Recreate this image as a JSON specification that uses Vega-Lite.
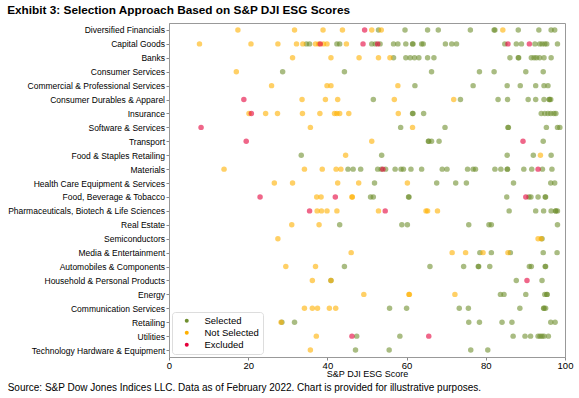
{
  "$schema": "https://vega.github.io/schema/vega-lite/v6.json",
  "background": "white",
  "padding": {"left": 7, "top": 4, "right": 8, "bottom": 2},
  "title": {"text": "Exhibit 3: Selection Approach Based on S&P DJI ESG Scores", "anchor": "start", "font": "Liberation Sans", "fontSize": 11.8, "fontWeight": "bold", "color": "#000000", "offset": 6},
  "config": {
    "font": "Liberation Sans",
    "view": {"stroke": "#999999", "strokeWidth": 1},
    "axis": {"grid": false, "labelColor": "#000000", "titleColor": "#000000", "tickColor": "#888888", "domainColor": "#999999"}
  },
  "resolve": {"legend": {"color": "independent"}},
  "data": {"values": [
    {"sector": "Diversified Financials", "score": 17.4, "group": "Not Selected"},
    {"sector": "Diversified Financials", "score": 31.7, "group": "Not Selected"},
    {"sector": "Diversified Financials", "score": 38.9, "group": "Not Selected"},
    {"sector": "Diversified Financials", "score": 43.8, "group": "Not Selected"},
    {"sector": "Diversified Financials", "score": 49.4, "group": "Excluded"},
    {"sector": "Diversified Financials", "score": 51.2, "group": "Not Selected"},
    {"sector": "Diversified Financials", "score": 52.9, "group": "Selected"},
    {"sector": "Diversified Financials", "score": 53.6, "group": "Not Selected"},
    {"sector": "Diversified Financials", "score": 59.6, "group": "Selected"},
    {"sector": "Diversified Financials", "score": 65.3, "group": "Selected"},
    {"sector": "Diversified Financials", "score": 68.0, "group": "Selected"},
    {"sector": "Diversified Financials", "score": 76.1, "group": "Selected"},
    {"sector": "Diversified Financials", "score": 82.1, "group": "Selected"},
    {"sector": "Diversified Financials", "score": 82.3, "group": "Selected"},
    {"sector": "Diversified Financials", "score": 84.3, "group": "Not Selected"},
    {"sector": "Diversified Financials", "score": 88.2, "group": "Selected"},
    {"sector": "Diversified Financials", "score": 93.4, "group": "Selected"},
    {"sector": "Diversified Financials", "score": 96.5, "group": "Selected"},
    {"sector": "Diversified Financials", "score": 97.4, "group": "Selected"},

    {"sector": "Capital Goods", "score": 7.7, "group": "Not Selected"},
    {"sector": "Capital Goods", "score": 20.7, "group": "Not Selected"},
    {"sector": "Capital Goods", "score": 27.5, "group": "Not Selected"},
    {"sector": "Capital Goods", "score": 32.2, "group": "Not Selected"},
    {"sector": "Capital Goods", "score": 33.8, "group": "Not Selected"},
    {"sector": "Capital Goods", "score": 37.0, "group": "Not Selected"},
    {"sector": "Capital Goods", "score": 37.8, "group": "Not Selected"},
    {"sector": "Capital Goods", "score": 39.0, "group": "Not Selected"},
    {"sector": "Capital Goods", "score": 39.9, "group": "Not Selected"},
    {"sector": "Capital Goods", "score": 44.8, "group": "Not Selected"},
    {"sector": "Capital Goods", "score": 34.7, "group": "Selected"},
    {"sector": "Capital Goods", "score": 35.5, "group": "Selected"},
    {"sector": "Capital Goods", "score": 42.4, "group": "Selected"},
    {"sector": "Capital Goods", "score": 43.1, "group": "Selected"},
    {"sector": "Capital Goods", "score": 38.2, "group": "Excluded"},
    {"sector": "Capital Goods", "score": 49.0, "group": "Excluded"},
    {"sector": "Capital Goods", "score": 52.7, "group": "Excluded"},
    {"sector": "Capital Goods", "score": 85.6, "group": "Excluded"},
    {"sector": "Capital Goods", "score": 91.0, "group": "Excluded"},
    {"sector": "Capital Goods", "score": 51.2, "group": "Selected"},
    {"sector": "Capital Goods", "score": 52.1, "group": "Selected"},
    {"sector": "Capital Goods", "score": 53.3, "group": "Selected"},
    {"sector": "Capital Goods", "score": 56.7, "group": "Selected"},
    {"sector": "Capital Goods", "score": 57.8, "group": "Selected"},
    {"sector": "Capital Goods", "score": 59.8, "group": "Selected"},
    {"sector": "Capital Goods", "score": 61.5, "group": "Selected"},
    {"sector": "Capital Goods", "score": 61.6, "group": "Selected"},
    {"sector": "Capital Goods", "score": 63.8, "group": "Selected"},
    {"sector": "Capital Goods", "score": 64.2, "group": "Selected"},
    {"sector": "Capital Goods", "score": 69.8, "group": "Selected"},
    {"sector": "Capital Goods", "score": 71.4, "group": "Selected"},
    {"sector": "Capital Goods", "score": 72.6, "group": "Selected"},
    {"sector": "Capital Goods", "score": 84.8, "group": "Selected"},
    {"sector": "Capital Goods", "score": 87.7, "group": "Selected"},
    {"sector": "Capital Goods", "score": 89.0, "group": "Selected"},
    {"sector": "Capital Goods", "score": 92.4, "group": "Selected"},
    {"sector": "Capital Goods", "score": 93.6, "group": "Selected"},
    {"sector": "Capital Goods", "score": 94.2, "group": "Selected"},
    {"sector": "Capital Goods", "score": 94.9, "group": "Selected"},
    {"sector": "Capital Goods", "score": 95.4, "group": "Selected"},
    {"sector": "Capital Goods", "score": 98.1, "group": "Selected"},

    {"sector": "Banks", "score": 31.2, "group": "Not Selected"},
    {"sector": "Banks", "score": 40.9, "group": "Not Selected"},
    {"sector": "Banks", "score": 48.0, "group": "Not Selected"},
    {"sector": "Banks", "score": 52.9, "group": "Not Selected"},
    {"sector": "Banks", "score": 55.8, "group": "Not Selected"},
    {"sector": "Banks", "score": 56.7, "group": "Selected"},
    {"sector": "Banks", "score": 59.8, "group": "Selected"},
    {"sector": "Banks", "score": 60.9, "group": "Selected"},
    {"sector": "Banks", "score": 62.0, "group": "Selected"},
    {"sector": "Banks", "score": 63.1, "group": "Selected"},
    {"sector": "Banks", "score": 65.3, "group": "Selected"},
    {"sector": "Banks", "score": 66.9, "group": "Selected"},
    {"sector": "Banks", "score": 86.1, "group": "Selected"},
    {"sector": "Banks", "score": 88.2, "group": "Selected"},
    {"sector": "Banks", "score": 88.3, "group": "Selected"},
    {"sector": "Banks", "score": 91.5, "group": "Selected"},
    {"sector": "Banks", "score": 92.2, "group": "Selected"},
    {"sector": "Banks", "score": 92.8, "group": "Selected"},
    {"sector": "Banks", "score": 93.6, "group": "Selected"},
    {"sector": "Banks", "score": 94.7, "group": "Selected"},
    {"sector": "Banks", "score": 96.5, "group": "Selected"},

    {"sector": "Consumer Services", "score": 17.0, "group": "Not Selected"},
    {"sector": "Consumer Services", "score": 28.7, "group": "Selected"},
    {"sector": "Consumer Services", "score": 44.3, "group": "Selected"},
    {"sector": "Consumer Services", "score": 66.3, "group": "Selected"},
    {"sector": "Consumer Services", "score": 78.4, "group": "Selected"},
    {"sector": "Consumer Services", "score": 82.1, "group": "Selected"},
    {"sector": "Consumer Services", "score": 90.1, "group": "Selected"},
    {"sector": "Consumer Services", "score": 94.5, "group": "Selected"},

    {"sector": "Commercial & Professional Services", "score": 25.9, "group": "Not Selected"},
    {"sector": "Commercial & Professional Services", "score": 39.9, "group": "Not Selected"},
    {"sector": "Commercial & Professional Services", "score": 40.9, "group": "Not Selected"},
    {"sector": "Commercial & Professional Services", "score": 57.8, "group": "Not Selected"},
    {"sector": "Commercial & Professional Services", "score": 62.1, "group": "Selected"},
    {"sector": "Commercial & Professional Services", "score": 76.8, "group": "Selected"},
    {"sector": "Commercial & Professional Services", "score": 85.4, "group": "Selected"},
    {"sector": "Commercial & Professional Services", "score": 88.7, "group": "Selected"},
    {"sector": "Commercial & Professional Services", "score": 92.6, "group": "Selected"},
    {"sector": "Commercial & Professional Services", "score": 94.7, "group": "Selected"},
    {"sector": "Commercial & Professional Services", "score": 95.7, "group": "Selected"},

    {"sector": "Consumer Durables & Apparel", "score": 18.9, "group": "Excluded"},
    {"sector": "Consumer Durables & Apparel", "score": 33.6, "group": "Not Selected"},
    {"sector": "Consumer Durables & Apparel", "score": 39.5, "group": "Not Selected"},
    {"sector": "Consumer Durables & Apparel", "score": 42.6, "group": "Not Selected"},
    {"sector": "Consumer Durables & Apparel", "score": 56.9, "group": "Not Selected"},
    {"sector": "Consumer Durables & Apparel", "score": 71.9, "group": "Not Selected"},
    {"sector": "Consumer Durables & Apparel", "score": 51.6, "group": "Selected"},
    {"sector": "Consumer Durables & Apparel", "score": 73.6, "group": "Selected"},
    {"sector": "Consumer Durables & Apparel", "score": 83.1, "group": "Selected"},
    {"sector": "Consumer Durables & Apparel", "score": 85.5, "group": "Selected"},
    {"sector": "Consumer Durables & Apparel", "score": 90.7, "group": "Selected"},
    {"sector": "Consumer Durables & Apparel", "score": 92.6, "group": "Selected"},
    {"sector": "Consumer Durables & Apparel", "score": 94.7, "group": "Selected"},
    {"sector": "Consumer Durables & Apparel", "score": 96.0, "group": "Selected"},
    {"sector": "Consumer Durables & Apparel", "score": 96.1, "group": "Selected"},
    {"sector": "Consumer Durables & Apparel", "score": 96.4, "group": "Selected"},

    {"sector": "Insurance", "score": 20.2, "group": "Not Selected"},
    {"sector": "Insurance", "score": 24.4, "group": "Not Selected"},
    {"sector": "Insurance", "score": 27.4, "group": "Not Selected"},
    {"sector": "Insurance", "score": 33.7, "group": "Not Selected"},
    {"sector": "Insurance", "score": 38.1, "group": "Not Selected"},
    {"sector": "Insurance", "score": 41.8, "group": "Not Selected"},
    {"sector": "Insurance", "score": 42.4, "group": "Not Selected"},
    {"sector": "Insurance", "score": 43.1, "group": "Not Selected"},
    {"sector": "Insurance", "score": 45.4, "group": "Not Selected"},
    {"sector": "Insurance", "score": 57.9, "group": "Not Selected"},
    {"sector": "Insurance", "score": 20.8, "group": "Excluded"},
    {"sector": "Insurance", "score": 61.5, "group": "Selected"},
    {"sector": "Insurance", "score": 61.6, "group": "Selected"},
    {"sector": "Insurance", "score": 64.3, "group": "Selected"},
    {"sector": "Insurance", "score": 94.0, "group": "Selected"},
    {"sector": "Insurance", "score": 94.9, "group": "Selected"},
    {"sector": "Insurance", "score": 95.7, "group": "Selected"},
    {"sector": "Insurance", "score": 96.4, "group": "Selected"},
    {"sector": "Insurance", "score": 97.2, "group": "Selected"},
    {"sector": "Insurance", "score": 97.7, "group": "Selected"},

    {"sector": "Software & Services", "score": 8.1, "group": "Excluded"},
    {"sector": "Software & Services", "score": 35.7, "group": "Not Selected"},
    {"sector": "Software & Services", "score": 61.5, "group": "Not Selected"},
    {"sector": "Software & Services", "score": 58.5, "group": "Selected"},
    {"sector": "Software & Services", "score": 69.7, "group": "Selected"},
    {"sector": "Software & Services", "score": 85.6, "group": "Selected"},
    {"sector": "Software & Services", "score": 85.7, "group": "Selected"},
    {"sector": "Software & Services", "score": 95.3, "group": "Selected"},
    {"sector": "Software & Services", "score": 98.1, "group": "Selected"},
    {"sector": "Software & Services", "score": 98.7, "group": "Selected"},

    {"sector": "Transport", "score": 19.5, "group": "Excluded"},
    {"sector": "Transport", "score": 89.4, "group": "Excluded"},
    {"sector": "Transport", "score": 51.2, "group": "Not Selected"},
    {"sector": "Transport", "score": 65.5, "group": "Selected"},
    {"sector": "Transport", "score": 65.6, "group": "Selected"},
    {"sector": "Transport", "score": 66.3, "group": "Selected"},
    {"sector": "Transport", "score": 68.2, "group": "Selected"},
    {"sector": "Transport", "score": 94.5, "group": "Selected"},

    {"sector": "Food & Staples Retailing", "score": 33.4, "group": "Selected"},
    {"sector": "Food & Staples Retailing", "score": 44.6, "group": "Not Selected"},
    {"sector": "Food & Staples Retailing", "score": 53.7, "group": "Selected"},
    {"sector": "Food & Staples Retailing", "score": 85.4, "group": "Selected"},
    {"sector": "Food & Staples Retailing", "score": 92.0, "group": "Selected"},
    {"sector": "Food & Staples Retailing", "score": 93.8, "group": "Not Selected"},
    {"sector": "Food & Staples Retailing", "score": 96.5, "group": "Selected"},

    {"sector": "Materials", "score": 13.9, "group": "Not Selected"},
    {"sector": "Materials", "score": 34.2, "group": "Not Selected"},
    {"sector": "Materials", "score": 38.7, "group": "Not Selected"},
    {"sector": "Materials", "score": 42.2, "group": "Not Selected"},
    {"sector": "Materials", "score": 43.4, "group": "Not Selected"},
    {"sector": "Materials", "score": 45.2, "group": "Selected"},
    {"sector": "Materials", "score": 46.5, "group": "Selected"},
    {"sector": "Materials", "score": 48.4, "group": "Selected"},
    {"sector": "Materials", "score": 52.7, "group": "Selected"},
    {"sector": "Materials", "score": 53.6, "group": "Selected"},
    {"sector": "Materials", "score": 54.0, "group": "Excluded"},
    {"sector": "Materials", "score": 54.7, "group": "Selected"},
    {"sector": "Materials", "score": 57.1, "group": "Selected"},
    {"sector": "Materials", "score": 58.6, "group": "Selected"},
    {"sector": "Materials", "score": 59.2, "group": "Selected"},
    {"sector": "Materials", "score": 61.1, "group": "Selected"},
    {"sector": "Materials", "score": 63.8, "group": "Selected"},
    {"sector": "Materials", "score": 69.0, "group": "Selected"},
    {"sector": "Materials", "score": 70.2, "group": "Selected"},
    {"sector": "Materials", "score": 75.4, "group": "Selected"},
    {"sector": "Materials", "score": 76.8, "group": "Selected"},
    {"sector": "Materials", "score": 77.4, "group": "Selected"},
    {"sector": "Materials", "score": 82.3, "group": "Selected"},
    {"sector": "Materials", "score": 83.8, "group": "Selected"},
    {"sector": "Materials", "score": 85.4, "group": "Selected"},
    {"sector": "Materials", "score": 85.5, "group": "Selected"},
    {"sector": "Materials", "score": 89.6, "group": "Selected"},
    {"sector": "Materials", "score": 91.6, "group": "Selected"},
    {"sector": "Materials", "score": 93.2, "group": "Excluded"},
    {"sector": "Materials", "score": 94.3, "group": "Selected"},
    {"sector": "Materials", "score": 96.7, "group": "Selected"},

    {"sector": "Health Care Equipment & Services", "score": 26.6, "group": "Not Selected"},
    {"sector": "Health Care Equipment & Services", "score": 31.2, "group": "Not Selected"},
    {"sector": "Health Care Equipment & Services", "score": 42.6, "group": "Not Selected"},
    {"sector": "Health Care Equipment & Services", "score": 47.9, "group": "Not Selected"},
    {"sector": "Health Care Equipment & Services", "score": 60.2, "group": "Not Selected"},
    {"sector": "Health Care Equipment & Services", "score": 51.9, "group": "Selected"},
    {"sector": "Health Care Equipment & Services", "score": 67.6, "group": "Selected"},
    {"sector": "Health Care Equipment & Services", "score": 72.4, "group": "Selected"},
    {"sector": "Health Care Equipment & Services", "score": 75.1, "group": "Selected"},
    {"sector": "Health Care Equipment & Services", "score": 87.0, "group": "Selected"},
    {"sector": "Health Care Equipment & Services", "score": 96.4, "group": "Selected"},
    {"sector": "Health Care Equipment & Services", "score": 97.4, "group": "Selected"},

    {"sector": "Food, Beverage & Tobacco", "score": 23.0, "group": "Excluded"},
    {"sector": "Food, Beverage & Tobacco", "score": 42.0, "group": "Excluded"},
    {"sector": "Food, Beverage & Tobacco", "score": 90.1, "group": "Excluded"},
    {"sector": "Food, Beverage & Tobacco", "score": 37.3, "group": "Not Selected"},
    {"sector": "Food, Beverage & Tobacco", "score": 38.4, "group": "Not Selected"},
    {"sector": "Food, Beverage & Tobacco", "score": 46.2, "group": "Not Selected"},
    {"sector": "Food, Beverage & Tobacco", "score": 46.3, "group": "Not Selected"},
    {"sector": "Food, Beverage & Tobacco", "score": 50.9, "group": "Selected"},
    {"sector": "Food, Beverage & Tobacco", "score": 51.6, "group": "Selected"},
    {"sector": "Food, Beverage & Tobacco", "score": 60.5, "group": "Selected"},
    {"sector": "Food, Beverage & Tobacco", "score": 60.6, "group": "Selected"},
    {"sector": "Food, Beverage & Tobacco", "score": 85.3, "group": "Selected"},
    {"sector": "Food, Beverage & Tobacco", "score": 90.9, "group": "Selected"},
    {"sector": "Food, Beverage & Tobacco", "score": 91.4, "group": "Selected"},
    {"sector": "Food, Beverage & Tobacco", "score": 93.2, "group": "Selected"},
    {"sector": "Food, Beverage & Tobacco", "score": 95.0, "group": "Selected"},
    {"sector": "Food, Beverage & Tobacco", "score": 95.1, "group": "Selected"},

    {"sector": "Pharmaceuticals, Biotech & Life Sciences", "score": 35.5, "group": "Excluded"},
    {"sector": "Pharmaceuticals, Biotech & Life Sciences", "score": 54.6, "group": "Excluded"},
    {"sector": "Pharmaceuticals, Biotech & Life Sciences", "score": 37.4, "group": "Not Selected"},
    {"sector": "Pharmaceuticals, Biotech & Life Sciences", "score": 38.5, "group": "Not Selected"},
    {"sector": "Pharmaceuticals, Biotech & Life Sciences", "score": 39.9, "group": "Not Selected"},
    {"sector": "Pharmaceuticals, Biotech & Life Sciences", "score": 42.4, "group": "Not Selected"},
    {"sector": "Pharmaceuticals, Biotech & Life Sciences", "score": 52.9, "group": "Not Selected"},
    {"sector": "Pharmaceuticals, Biotech & Life Sciences", "score": 64.9, "group": "Not Selected"},
    {"sector": "Pharmaceuticals, Biotech & Life Sciences", "score": 65.3, "group": "Not Selected"},
    {"sector": "Pharmaceuticals, Biotech & Life Sciences", "score": 67.8, "group": "Not Selected"},
    {"sector": "Pharmaceuticals, Biotech & Life Sciences", "score": 85.9, "group": "Selected"},
    {"sector": "Pharmaceuticals, Biotech & Life Sciences", "score": 92.6, "group": "Selected"},
    {"sector": "Pharmaceuticals, Biotech & Life Sciences", "score": 94.6, "group": "Selected"},
    {"sector": "Pharmaceuticals, Biotech & Life Sciences", "score": 96.5, "group": "Selected"},
    {"sector": "Pharmaceuticals, Biotech & Life Sciences", "score": 97.6, "group": "Selected"},
    {"sector": "Pharmaceuticals, Biotech & Life Sciences", "score": 97.7, "group": "Selected"},
    {"sector": "Pharmaceuticals, Biotech & Life Sciences", "score": 98.1, "group": "Selected"},

    {"sector": "Real Estate", "score": 31.0, "group": "Not Selected"},
    {"sector": "Real Estate", "score": 37.9, "group": "Not Selected"},
    {"sector": "Real Estate", "score": 43.1, "group": "Selected"},
    {"sector": "Real Estate", "score": 58.8, "group": "Selected"},
    {"sector": "Real Estate", "score": 60.2, "group": "Selected"},
    {"sector": "Real Estate", "score": 75.7, "group": "Selected"},
    {"sector": "Real Estate", "score": 80.8, "group": "Selected"},
    {"sector": "Real Estate", "score": 81.4, "group": "Selected"},
    {"sector": "Real Estate", "score": 98.1, "group": "Selected"},

    {"sector": "Semiconductors", "score": 27.5, "group": "Not Selected"},
    {"sector": "Semiconductors", "score": 93.2, "group": "Not Selected"},
    {"sector": "Semiconductors", "score": 94.0, "group": "Not Selected"},
    {"sector": "Semiconductors", "score": 94.2, "group": "Selected"},

    {"sector": "Media & Entertainment", "score": 46.0, "group": "Not Selected"},
    {"sector": "Media & Entertainment", "score": 71.5, "group": "Not Selected"},
    {"sector": "Media & Entertainment", "score": 74.9, "group": "Not Selected"},
    {"sector": "Media & Entertainment", "score": 79.3, "group": "Not Selected"},
    {"sector": "Media & Entertainment", "score": 85.6, "group": "Not Selected"},
    {"sector": "Media & Entertainment", "score": 78.5, "group": "Selected"},
    {"sector": "Media & Entertainment", "score": 81.4, "group": "Selected"},
    {"sector": "Media & Entertainment", "score": 86.2, "group": "Selected"},
    {"sector": "Media & Entertainment", "score": 94.5, "group": "Selected"},
    {"sector": "Media & Entertainment", "score": 98.0, "group": "Selected"},

    {"sector": "Automobiles & Components", "score": 29.5, "group": "Not Selected"},
    {"sector": "Automobiles & Components", "score": 37.0, "group": "Not Selected"},
    {"sector": "Automobiles & Components", "score": 44.3, "group": "Selected"},
    {"sector": "Automobiles & Components", "score": 65.9, "group": "Selected"},
    {"sector": "Automobiles & Components", "score": 74.4, "group": "Selected"},
    {"sector": "Automobiles & Components", "score": 78.1, "group": "Selected"},
    {"sector": "Automobiles & Components", "score": 78.2, "group": "Selected"},
    {"sector": "Automobiles & Components", "score": 81.0, "group": "Selected"},
    {"sector": "Automobiles & Components", "score": 91.0, "group": "Selected"},
    {"sector": "Automobiles & Components", "score": 91.5, "group": "Selected"},
    {"sector": "Automobiles & Components", "score": 95.0, "group": "Selected"},
    {"sector": "Automobiles & Components", "score": 95.1, "group": "Selected"},

    {"sector": "Household & Personal Products", "score": 36.2, "group": "Not Selected"},
    {"sector": "Household & Personal Products", "score": 40.9, "group": "Not Selected"},
    {"sector": "Household & Personal Products", "score": 40.9, "group": "Selected"},
    {"sector": "Household & Personal Products", "score": 87.7, "group": "Selected"},
    {"sector": "Household & Personal Products", "score": 90.4, "group": "Excluded"},
    {"sector": "Household & Personal Products", "score": 94.2, "group": "Selected"},

    {"sector": "Energy", "score": 49.2, "group": "Not Selected"},
    {"sector": "Energy", "score": 60.6, "group": "Not Selected"},
    {"sector": "Energy", "score": 60.7, "group": "Not Selected"},
    {"sector": "Energy", "score": 72.2, "group": "Not Selected"},
    {"sector": "Energy", "score": 83.7, "group": "Selected"},
    {"sector": "Energy", "score": 84.6, "group": "Selected"},
    {"sector": "Energy", "score": 90.1, "group": "Selected"},
    {"sector": "Energy", "score": 94.9, "group": "Selected"},
    {"sector": "Energy", "score": 95.4, "group": "Selected"},
    {"sector": "Energy", "score": 95.5, "group": "Selected"},

    {"sector": "Communication Services", "score": 34.2, "group": "Not Selected"},
    {"sector": "Communication Services", "score": 36.2, "group": "Not Selected"},
    {"sector": "Communication Services", "score": 37.5, "group": "Not Selected"},
    {"sector": "Communication Services", "score": 40.5, "group": "Not Selected"},
    {"sector": "Communication Services", "score": 42.1, "group": "Not Selected"},
    {"sector": "Communication Services", "score": 55.7, "group": "Selected"},
    {"sector": "Communication Services", "score": 60.0, "group": "Selected"},
    {"sector": "Communication Services", "score": 73.3, "group": "Selected"},
    {"sector": "Communication Services", "score": 75.6, "group": "Selected"},
    {"sector": "Communication Services", "score": 88.6, "group": "Selected"},
    {"sector": "Communication Services", "score": 94.6, "group": "Selected"},
    {"sector": "Communication Services", "score": 94.7, "group": "Selected"},
    {"sector": "Communication Services", "score": 95.1, "group": "Selected"},

    {"sector": "Retailing", "score": 28.3, "group": "Not Selected"},
    {"sector": "Retailing", "score": 28.5, "group": "Selected"},
    {"sector": "Retailing", "score": 31.7, "group": "Selected"},
    {"sector": "Retailing", "score": 75.7, "group": "Selected"},
    {"sector": "Retailing", "score": 78.4, "group": "Selected"},
    {"sector": "Retailing", "score": 84.1, "group": "Selected"},
    {"sector": "Retailing", "score": 86.6, "group": "Selected"},
    {"sector": "Retailing", "score": 96.4, "group": "Selected"},
    {"sector": "Retailing", "score": 97.5, "group": "Selected"},

    {"sector": "Utilities", "score": 37.2, "group": "Not Selected"},
    {"sector": "Utilities", "score": 46.2, "group": "Excluded"},
    {"sector": "Utilities", "score": 65.6, "group": "Excluded"},
    {"sector": "Utilities", "score": 47.4, "group": "Selected"},
    {"sector": "Utilities", "score": 58.3, "group": "Selected"},
    {"sector": "Utilities", "score": 86.9, "group": "Selected"},
    {"sector": "Utilities", "score": 89.9, "group": "Selected"},
    {"sector": "Utilities", "score": 91.3, "group": "Selected"},
    {"sector": "Utilities", "score": 93.2, "group": "Selected"},
    {"sector": "Utilities", "score": 93.7, "group": "Selected"},
    {"sector": "Utilities", "score": 94.2, "group": "Selected"},
    {"sector": "Utilities", "score": 94.7, "group": "Selected"},
    {"sector": "Utilities", "score": 95.8, "group": "Selected"},

    {"sector": "Technology Hardware & Equipment", "score": 35.7, "group": "Not Selected"},
    {"sector": "Technology Hardware & Equipment", "score": 47.1, "group": "Selected"},
    {"sector": "Technology Hardware & Equipment", "score": 55.6, "group": "Selected"},
    {"sector": "Technology Hardware & Equipment", "score": 76.2, "group": "Selected"},
    {"sector": "Technology Hardware & Equipment", "score": 80.5, "group": "Selected"}
  ]},
  "vconcat": [
    {
      "width": 396,
      "height": 334,
      "title": {"text": "Source: S&P Dow Jones Indices LLC. Data as of February 2022. Chart is provided for illustrative purposes.", "orient": "bottom", "anchor": "start", "frame": "bounds", "font": "Liberation Sans", "fontSize": 10, "fontWeight": "normal", "color": "#000000", "offset": 4},
      "mark": {"type": "circle", "size": 30, "opacity": 0.6},
      "encoding": {
        "x": {"field": "score", "type": "quantitative", "title": "S&P DJI ESG Score",
              "scale": {"domain": [0, 100], "nice": false, "zero": false},
              "axis": {"values": [0, 20, 40, 60, 80, 100], "labelFontSize": 9.5, "titleFontSize": 9, "titleFontWeight": "normal", "tickSize": 3, "labelPadding": 0, "titlePadding": 0, "labelFlush": false}},
        "y": {"field": "sector", "type": "nominal", "title": null,
              "scale": {"type": "point", "padding": 0.5},
              "sort": ["Diversified Financials", "Capital Goods", "Banks", "Consumer Services", "Commercial & Professional Services", "Consumer Durables & Apparel", "Insurance", "Software & Services", "Transport", "Food & Staples Retailing", "Materials", "Health Care Equipment & Services", "Food, Beverage & Tobacco", "Pharmaceuticals, Biotech & Life Sciences", "Real Estate", "Semiconductors", "Media & Entertainment", "Automobiles & Components", "Household & Personal Products", "Energy", "Communication Services", "Retailing", "Utilities", "Technology Hardware & Equipment"],
              "axis": {"labelFontSize": 8.5, "tickSize": 3, "labelPadding": 1.5, "labelLimit": 300}},
        "color": {"field": "group", "type": "nominal", "title": null,
                  "scale": {"domain": ["Selected", "Not Selected", "Excluded"], "range": ["#6F8F2F", "#FFB000", "#E4003A"]},
                  "legend": {"orient": "bottom-left", "offset": 3, "padding": 4, "symbolOffset": 6, "fillColor": "white", "strokeColor": "#dddddd", "cornerRadius": 3, "symbolOpacity": 1, "symbolSize": 16, "labelFontSize": 9.5, "labelOffset": 13, "rowPadding": 1, "symbolStrokeWidth": 0, "labelColor": "#000000"}},
        "order": {"field": "group", "sort": "descending"}
      }
    }
  ]
}
